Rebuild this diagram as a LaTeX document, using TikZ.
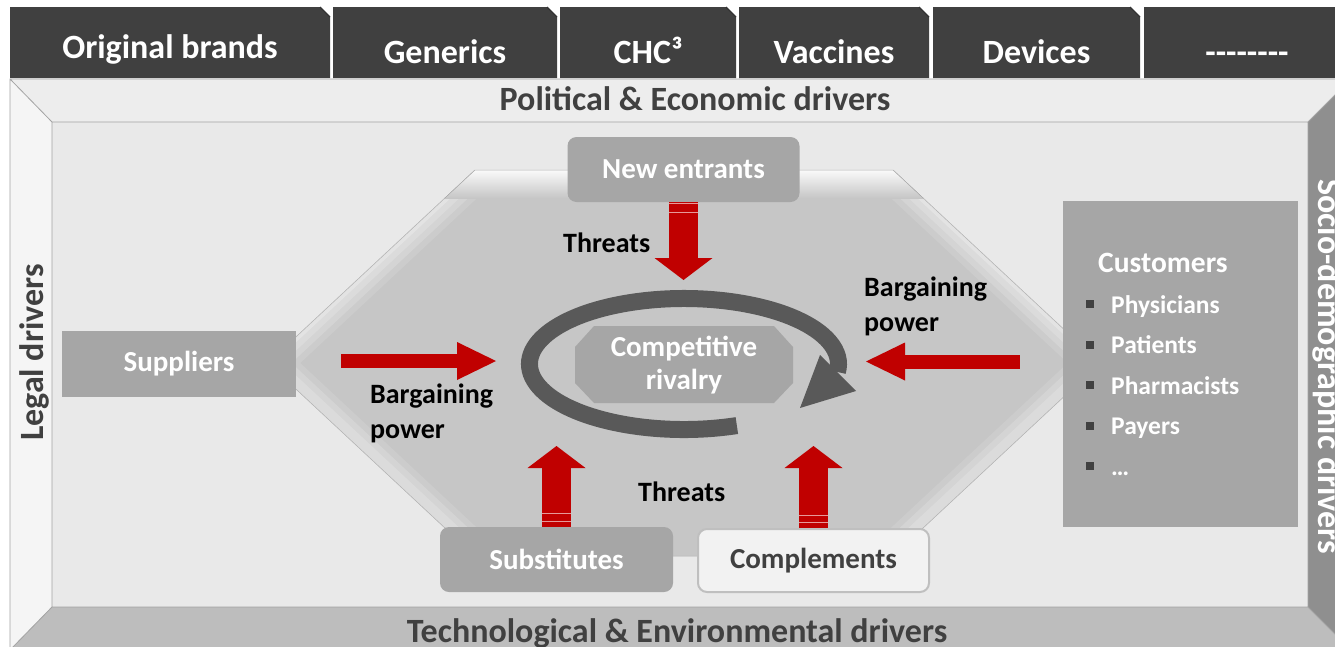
\documentclass[tikz,border=0pt]{standalone}
\usepackage{fontspec}
\setmainfont{Carlito}
\usetikzlibrary{arrows.meta,calc,positioning}
\definecolor{tabgrey}{HTML}{404040}
\definecolor{boxgrey}{HTML}{A6A6A6}
\definecolor{panelgrey}{HTML}{E9E9E9}
\definecolor{hexgrey}{HTML}{C6C6C6}
\definecolor{forcered}{HTML}{C00000}
\definecolor{cyclegrey}{HTML}{595959}
\definecolor{edgegrey}{HTML}{A3A3A3}
\definecolor{compfill}{HTML}{F2F2F2}
\definecolor{compedge}{HTML}{BFBFBF}

\tikzset{
 tabtext/.style={text=white,font=\bfseries\fontsize{34}{40}\selectfont,anchor=base,inner sep=0pt},
 drivertext/.style={text=tabgrey,font=\bfseries\fontsize{34}{40}\selectfont,anchor=base,inner sep=0pt},
 forcebox/.style={fill=boxgrey,text=white,font=\bfseries\fontsize{29}{33}\selectfont,inner sep=0pt,align=center},
 roundbox/.style={forcebox,rounded corners=9pt},
 forcelabel/.style={font=\bfseries\fontsize{28}{34.5}\selectfont,align=left,anchor=base west,inner sep=0pt},
 custitem/.style={text=white,font=\bfseries\fontsize{25.5}{30}\selectfont,anchor=base west,inner sep=0pt},
 threatarrow/.style={color=forcered,line width=29pt,-{Triangle[width=58pt,length=22pt,line width=0pt]}},
 bargainarrow/.style={color=forcered,line width=14pt,-{Triangle[width=38pt,length=39pt,line width=0pt]}},
 shaftmark/.style={draw=forcered!40!white,line width=0.8pt},
 frameline/.style={draw=edgegrey,line width=0.8pt},
}

\begin{document}
\begin{tikzpicture}[x=1pt,y=-1pt,line join=miter]
 \useasboundingbox (0,0) rectangle (1335,646);
 \clip (0,0) rectangle (1335,646);
 \fill[white] (0,0) rectangle (1335,646);
 % Zakladki.
 \foreach \xa/\xb/\txt/\yb [count=\i] in {10/330/Original brands/58.5,
   333/557/Generics/63, 560/736/CHC³/63, 739/929/Vaccines/63,
   933/1140/Devices/63, 1144/1350/{-{}-{}-{}-{}-{}-{}-{}-}/63}
  {
   \fill[tabgrey] (\xa,7) -- (\xb-10,7) -- (\xb,17) -- (\xb,78) -- (\xa,78) -- cycle;
   \draw[black!80,line width=1.2pt] (\xb-10,7) -- (\xb,17);
   \node[tabtext] (tab\i) at ({(\xa+\xb)/2},\yb) {\txt};
  }
 % Rama.
 \fill[black!7] (10,79) -- (1351,79) -- (1308,122) -- (52,122) -- cycle;
 \fill[black!4] (10,79) -- (52,122) -- (52,607) -- (10,650) -- cycle;
 \fill[black!44] (1351,79) -- (1308,122) -- (1308,607) -- (1351,650) -- cycle;
 \fill[black!26] (10,650) -- (52,607) -- (1308,607) -- (1351,650) -- cycle;
 \fill[panelgrey] (52,122) rectangle (1308,607);
 \draw[frameline] (10,79) rectangle (1351,650) (52,122) rectangle (1308,607)
  (10,79) -- (52,122) (1351,79) -- (1308,122) (10,650) -- (52,607) (1351,650) -- (1308,607);
 \node[drivertext] (political) at (695,110) {Political \& Economic drivers};
 \node[drivertext] (techno) at (677,642) {Technological \& Environmental drivers};
 \node[drivertext,rotate=90] (legal) at (43,352.5) {Legal drivers};
 \node[drivertext,text=white,rotate=-90] (socio) at (1318,366.5) {Socio-demographic drivers};
 % Szesciokat.
 \coordinate (h1) at (475,170);
 \coordinate (h2) at (893,170);
 \coordinate (h3) at (1100,363);
 \coordinate (h4) at (893,556);
 \coordinate (h5) at (475,556);
 \coordinate (h6) at (268,363);
 \fill[hexgrey] (h1) -- (h2) -- (h3) -- (h4) -- (h5) -- (h6) -- cycle;
 \begin{scope}
  \clip (h1) -- (h2) -- (h3) -- (h4) -- (h5) -- (h6) -- cycle;
  \draw[black!20,line width=44pt] (h5) -- (h6) -- (h1) -- (h2) -- (h3) -- (h4);
  \draw[black!17,line width=32pt] (h5) -- (h6) -- (h1) -- (h2) -- (h3) -- (h4);
  \draw[black!14,line width=20pt] (h5) -- (h6) -- (h1) -- (h2) -- (h3) -- (h4);
  \draw[black!11,line width=8pt] (h6) -- (h1) -- (h2) -- (h3);
  \fill[top color=black!2,bottom color=hexgrey] (260,170) rectangle (1110,198);
 \end{scope}
 \draw[black!30,line width=0.5pt] (h1) -- (h2) -- (h3) -- (h4) -- (h5) -- (h6) -- cycle;
 % Rywalizacja.
 \draw[cyclegrey,line width=17pt] (684,364) ++(70:154.5 and 65.5)
  arc[start angle=70,end angle=367,x radius=154.5,y radius=65.5];
 \fill[cyclegrey] (820,355) -- (856,391) -- (800,408) -- cycle;
 \coordinate (rivalryc) at (684,365);
 \fill[boxgrey] ($(rivalryc)+(-90,-39)$) -- ($(rivalryc)+(90,-39)$)
  -- ($(rivalryc)+(109,-18)$) -- ($(rivalryc)+(109,18)$)
  -- ($(rivalryc)+(90,38)$) -- ($(rivalryc)+(-90,38)$)
  -- ($(rivalryc)+(-109,18)$) -- ($(rivalryc)+(-109,-18)$) -- cycle;
 \node[forcebox,fill=none] (rivalry) at (rivalryc) {Competitive\\rivalry};
 % Sily.
 \node[roundbox,minimum width=232pt,minimum height=65pt] (newentrants) at (683.5,169.5) {New entrants};
 \node[forcebox,minimum width=234pt,minimum height=66pt] (suppliers) at (179,364) {Suppliers};
 \node[forcebox,minimum width=235pt,minimum height=326pt] (customers) at (1180.5,364) {};
 \node[roundbox,minimum width=233pt,minimum height=65pt] (substitutes) at (556.5,559.5) {Substitutes};
 \node[roundbox,fill=compfill,draw=compedge,line width=2pt,text=tabgrey,
  minimum width=231pt,minimum height=63pt] (complements) at (813.5,560.5) {Complements};
 % Klienci.
 \node[custitem,font=\bfseries\fontsize{29.5}{34}\selectfont] (custhead) at (1098,272) {Customers};
 \foreach \who [count=\k from 0] in {Physicians,Patients,Pharmacists,Payers,…}
  {
   \fill[tabgrey] (1086,{300+40.5*\k}) rectangle ++(8,8);
   \node[custitem] (cust\k) at (1111,{313+40.5*\k}) {\who};
  }
 % Strzalki.
 \coordinate (tipT) at (683.5,280);
 \coordinate (tipS) at (556.5,446);
 \coordinate (tipC) at (813.5,446);
 \coordinate (tipL) at (496,361);
 \coordinate (tipR) at (866,361.5);
 \draw[threatarrow] (newentrants.south) -- (tipT);
 \draw[threatarrow] (substitutes.north) -- (tipS);
 \draw[threatarrow] (complements.north) -- (tipC);
 \draw[bargainarrow,shorten <=45pt] (suppliers.east |- tipL) -- (tipL);
 \draw[bargainarrow,shorten <=43pt] (customers.west |- tipR) -- (tipR);
 \draw[shaftmark] ($(newentrants.south)+(-14.5,1)$) -- ++(29,0)
  ($(newentrants.south)+(-14.5,10)$) -- ++(29,0);
 \draw[shaftmark] ($(substitutes.north)+(-14.5,-5.5)$) -- ++(29,0)
  ($(substitutes.north)+(-14.5,-13)$) -- ++(29,0);
 \draw[shaftmark] ($(complements.north)+(-14.5,-5.5)$) -- ++(29,0)
  ($(complements.north)+(-14.5,-13)$) -- ++(29,0);
 \node[forcelabel] (threatstop) at (563,252) {Threats};
 \node[forcelabel] (threatsbottom) at (638,501) {Threats};
 \node[forcelabel] (bargainleft) at (370,438) {Bargaining\\power};
 \node[forcelabel] (bargainright) at (864,331) {Bargaining\\power};
\end{tikzpicture}
\end{document}
